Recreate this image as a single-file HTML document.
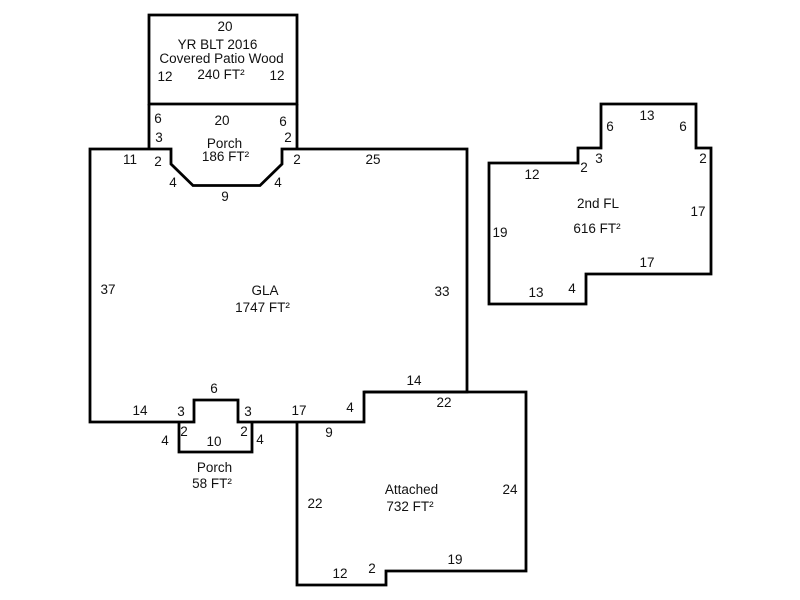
<!DOCTYPE html>
<html><head><meta charset="utf-8"><style>
html,body{margin:0;padding:0;background:#fff}
svg{display:block}
text{font-family:"Liberation Sans",sans-serif;font-size:13.5px;fill:#111;text-anchor:middle}
path{fill:none;stroke:#000;stroke-width:2.8;stroke-linejoin:miter}
</style></head><body>
<svg width="800" height="600" viewBox="0 0 800 600" xmlns="http://www.w3.org/2000/svg">
<path d="M149 15H297V104H149Z"/>
<path d="M149 104V149M297 104V149"/>
<path d="M90 149H171V164L193 185.5H260L282 164V149H467V392H364V422H238V400H194V422H90Z"/>
<path d="M179 422V452H252V422"/>
<path d="M297 422V585H386V571H526V392H364"/>
<path d="M489 163H578V148H601V104H696V148H711V274H586V304H489Z"/>
<text x="225" y="31">20</text>
<text x="217.5" y="49">YR BLT 2016</text>
<text x="221.5" y="63">Covered Patio Wood</text>
<text x="221" y="79">240 FT²</text>
<text x="165" y="81">12</text>
<text x="277" y="80">12</text>
<text x="158" y="123">6</text>
<text x="222" y="125">20</text>
<text x="283" y="126">6</text>
<text x="159" y="142">3</text>
<text x="288" y="142">2</text>
<text x="224.500" y="148">Porch</text>
<text x="225.500" y="161">186 FT²</text>
<text x="130" y="164">11</text>
<text x="158" y="166">2</text>
<text x="297" y="164">2</text>
<text x="373" y="164">25</text>
<text x="173" y="187">4</text>
<text x="278" y="187">4</text>
<text x="225" y="201">9</text>
<text x="108" y="294">37</text>
<text x="442" y="296">33</text>
<text x="265" y="295">GLA</text>
<text x="262.500" y="312">1747 FT²</text>
<text x="214" y="393">6</text>
<text x="414" y="385">14</text>
<text x="140" y="415">14</text>
<text x="181" y="416">3</text>
<text x="248" y="416">3</text>
<text x="299" y="415">17</text>
<text x="350" y="412">4</text>
<text x="444" y="407">22</text>
<text x="184" y="436">2</text>
<text x="244" y="436">2</text>
<text x="329" y="437">9</text>
<text x="165" y="445">4</text>
<text x="260" y="444">4</text>
<text x="214" y="446">10</text>
<text x="214.500" y="472">Porch</text>
<text x="212" y="488">58 FT²</text>
<text x="411.500" y="494">Attached</text>
<text x="410" y="511">732 FT²</text>
<text x="510" y="494">24</text>
<text x="315" y="508">22</text>
<text x="455" y="564">19</text>
<text x="372" y="573">2</text>
<text x="340" y="578">12</text>
<text x="647" y="120">13</text>
<text x="610" y="131">6</text>
<text x="683" y="131">6</text>
<text x="599" y="163">3</text>
<text x="703" y="163">2</text>
<text x="584" y="172">2</text>
<text x="532" y="179">12</text>
<text x="598" y="208">2nd FL</text>
<text x="597" y="233">616 FT²</text>
<text x="698" y="216">17</text>
<text x="500" y="237">19</text>
<text x="647" y="267">17</text>
<text x="572" y="293">4</text>
<text x="536" y="297">13</text>
</svg>
</body></html>
